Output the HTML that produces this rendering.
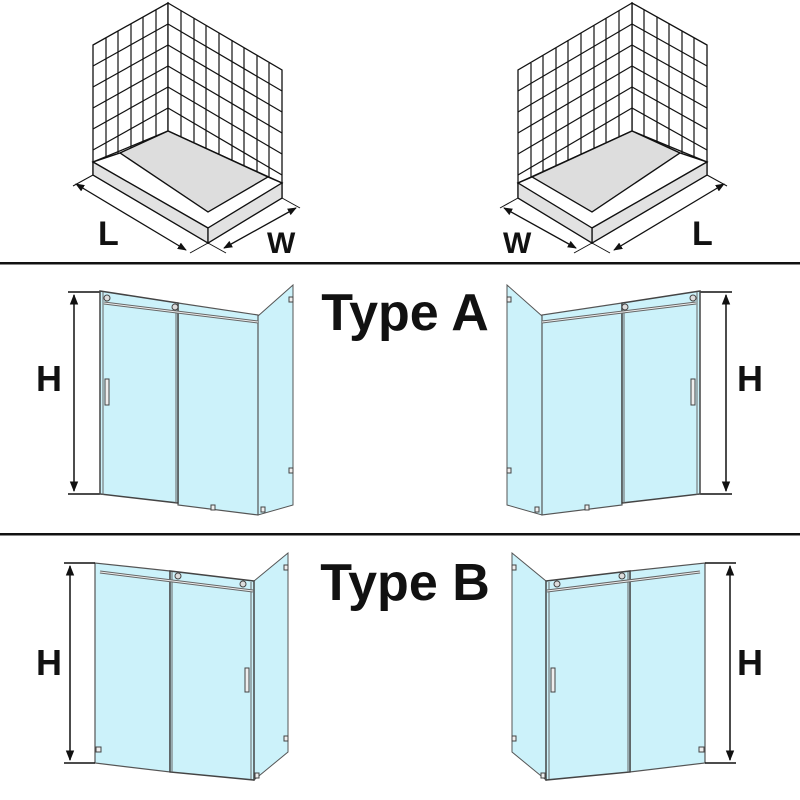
<!DOCTYPE html>
<html><head><meta charset="utf-8"><style>
html,body{margin:0;padding:0;background:#fff;}
svg{display:block;}
text{font-family:"Liberation Sans",sans-serif;font-weight:bold;fill:#111;}
</style></head><body>
<svg width="800" height="800" viewBox="0 0 800 800" xmlns="http://www.w3.org/2000/svg">
<defs>
<marker id="ar" viewBox="0 0 10 10" refX="9" refY="5" markerWidth="7" markerHeight="7" orient="auto-start-reverse"><path d="M0,1 L10,5 L0,9 z" fill="#111"/></marker>
<g id="room">
  <!-- left wall -->
  <polygon points="93,45 168,3 168,131 93,162" fill="#fff" stroke="#111" stroke-width="1.3"/>
  <polygon points="168,3 282,70 282,183 168,131" fill="#fff" stroke="#111" stroke-width="1.3"/>
  <g stroke="#111" stroke-width="1.2">
    <line x1="106" y1="38" x2="106" y2="160"/><line x1="118" y1="31" x2="118" y2="155"/>
    <line x1="131" y1="24" x2="131" y2="150"/><line x1="143" y1="17" x2="143" y2="145"/>
    <line x1="156" y1="10" x2="156" y2="138"/>
    <line x1="93" y1="66" x2="168" y2="24"/><line x1="93" y1="87" x2="168" y2="45"/>
    <line x1="93" y1="108" x2="168" y2="66"/><line x1="93" y1="129" x2="168" y2="87"/>
    <line x1="93" y1="150" x2="168" y2="108"/>
    <line x1="181" y1="11" x2="181" y2="137"/><line x1="194" y1="18" x2="194" y2="143"/>
    <line x1="206" y1="25" x2="206" y2="149"/><line x1="219" y1="33" x2="219" y2="155"/>
    <line x1="232" y1="40" x2="232" y2="161"/><line x1="244" y1="48" x2="244" y2="166"/>
    <line x1="257" y1="55" x2="257" y2="172"/><line x1="269" y1="63" x2="269" y2="178"/>
    <line x1="168" y1="24" x2="282" y2="91"/><line x1="168" y1="45" x2="282" y2="112"/>
    <line x1="168" y1="66" x2="282" y2="133"/><line x1="168" y1="87" x2="282" y2="154"/>
    <line x1="168" y1="108" x2="282" y2="175"/>
  </g>
  <!-- tray -->
  <polygon points="93,162 120,153 168,131 268,177 282,183 282,198 208,243 93,175" fill="#fff" stroke="#111" stroke-width="1.3"/>
  <polygon points="120,153 168,131 268,177 208,212" fill="#ddd" stroke="#111" stroke-width="1.3"/>
  <polygon points="93,162 120,153 208,212 268,177 282,183 208,228" fill="#fff" stroke="#111" stroke-width="1.3"/>
  <polygon points="93,162 208,228 208,243 93,175" fill="#e2e2e2" stroke="#111" stroke-width="1.3"/>
  <polygon points="208,228 282,183 282,198 208,243" fill="#e2e2e2" stroke="#111" stroke-width="1.3"/>
  <line x1="93" y1="175" x2="73" y2="186" stroke="#111" stroke-width="1"/>
  <line x1="208" y1="243" x2="190" y2="253" stroke="#111" stroke-width="1"/>
  <line x1="208" y1="243" x2="226" y2="253" stroke="#111" stroke-width="1"/>
  <line x1="282" y1="198" x2="300" y2="208" stroke="#111" stroke-width="1"/>
  <line x1="76" y1="184" x2="186" y2="250" stroke="#111" stroke-width="1.3" marker-start="url(#ar)" marker-end="url(#ar)"/>
  <line x1="224" y1="248" x2="296" y2="208" stroke="#111" stroke-width="1.3" marker-start="url(#ar)" marker-end="url(#ar)"/>
</g>
<g id="typeA">
  <line x1="68" y1="292" x2="100" y2="292" stroke="#111" stroke-width="1.5"/>
  <line x1="68" y1="494" x2="100" y2="494" stroke="#111" stroke-width="1.5"/>
  <line x1="74" y1="295" x2="74" y2="491" stroke="#111" stroke-width="1.5" marker-start="url(#ar)" marker-end="url(#ar)"/>
  <polygon points="258,316 293,285 293,505 258,515" fill="#ccf2fa" stroke="#555" stroke-width="1"/>
  <polygon points="178,303 258,315 258,515 178,505" fill="#ccf2fa" stroke="#555" stroke-width="1.2"/>
  <polygon points="100,291 178,303 178,503 100,494" fill="#ccf2fa" stroke="#444" stroke-width="1.5"/>
  <line x1="103" y1="292" x2="103" y2="495" stroke="#666" stroke-width="1"/>
  <line x1="176" y1="304" x2="176" y2="503" stroke="#666" stroke-width="1"/>
  <line x1="104" y1="303" x2="258" y2="322" stroke="#666" stroke-width="3"/>
  <line x1="104" y1="303" x2="258" y2="322" stroke="#eee" stroke-width="1"/>
  <circle cx="107" cy="298" r="3" fill="#ddd" stroke="#444"/>
  <circle cx="175" cy="307" r="3" fill="#ddd" stroke="#444"/>
  <rect x="105" y="379" width="4" height="26" fill="#eee" stroke="#444"/>
  <rect x="211" y="505" width="4" height="5" fill="#eee" stroke="#444"/>
  <rect x="289" y="297" width="4" height="5" fill="#eee" stroke="#444"/>
  <rect x="289" y="468" width="4" height="5" fill="#eee" stroke="#444"/>
  <rect x="261" y="507" width="4" height="5" fill="#eee" stroke="#444"/>
</g>
<g id="typeB">
  <polygon points="512,553 546,581 546,780 512,752" fill="#ccf2fa" stroke="#555" stroke-width="1"/>
  <polygon points="630,571 705,563 705,763 630,772" fill="#ccf2fa" stroke="#555" stroke-width="1.2"/>
  <polygon points="546,581 630,571 630,772 546,780" fill="#ccf2fa" stroke="#444" stroke-width="1.5"/>
  <line x1="549" y1="582" x2="549" y2="779" stroke="#666" stroke-width="1"/>
  <line x1="628" y1="572" x2="628" y2="772" stroke="#666" stroke-width="1"/>
  <line x1="547" y1="591" x2="700" y2="572" stroke="#666" stroke-width="3"/>
  <line x1="547" y1="591" x2="700" y2="572" stroke="#eee" stroke-width="1"/>
  <circle cx="557" cy="584" r="3" fill="#ddd" stroke="#444"/>
  <circle cx="622" cy="576" r="3" fill="#ddd" stroke="#444"/>
  <rect x="551" y="668" width="4" height="24" fill="#eee" stroke="#444"/>
  <rect x="699" y="747" width="5" height="5" fill="#eee" stroke="#444"/>
  <rect x="512" y="565" width="4" height="5" fill="#eee" stroke="#444"/>
  <rect x="512" y="736" width="4" height="5" fill="#eee" stroke="#444"/>
  <rect x="541" y="773" width="4" height="5" fill="#eee" stroke="#444"/>
  <line x1="705" y1="563" x2="736" y2="563" stroke="#111" stroke-width="1.5"/>
  <line x1="705" y1="763" x2="736" y2="763" stroke="#111" stroke-width="1.5"/>
  <line x1="730" y1="566" x2="730" y2="760" stroke="#111" stroke-width="1.5" marker-start="url(#ar)" marker-end="url(#ar)"/>
</g>
</defs>
<use href="#room"/>
<use href="#room" transform="translate(800,0) scale(-1,1)"/>
<text x="98" y="245" font-size="34">L</text>
<text x="267" y="253" font-size="30">W</text>
<text x="503" y="253" font-size="30">W</text>
<text x="692" y="245" font-size="34">L</text>
<rect x="0" y="262" width="800" height="2.5" fill="#111"/>
<rect x="0" y="533" width="800" height="2.5" fill="#111"/>
<text x="405" y="330" font-size="52" text-anchor="middle">Type A</text>
<text x="405" y="600" font-size="52" text-anchor="middle">Type B</text>
<use href="#typeA"/>
<use href="#typeA" transform="translate(800,0) scale(-1,1)"/>
<use href="#typeB"/>
<use href="#typeB" transform="translate(800,0) scale(-1,1)"/>
<text x="36" y="391" font-size="36">H</text>
<text x="737" y="391" font-size="36">H</text>
<text x="36" y="675" font-size="36">H</text>
<text x="737" y="675" font-size="36">H</text>
</svg>
</body></html>
